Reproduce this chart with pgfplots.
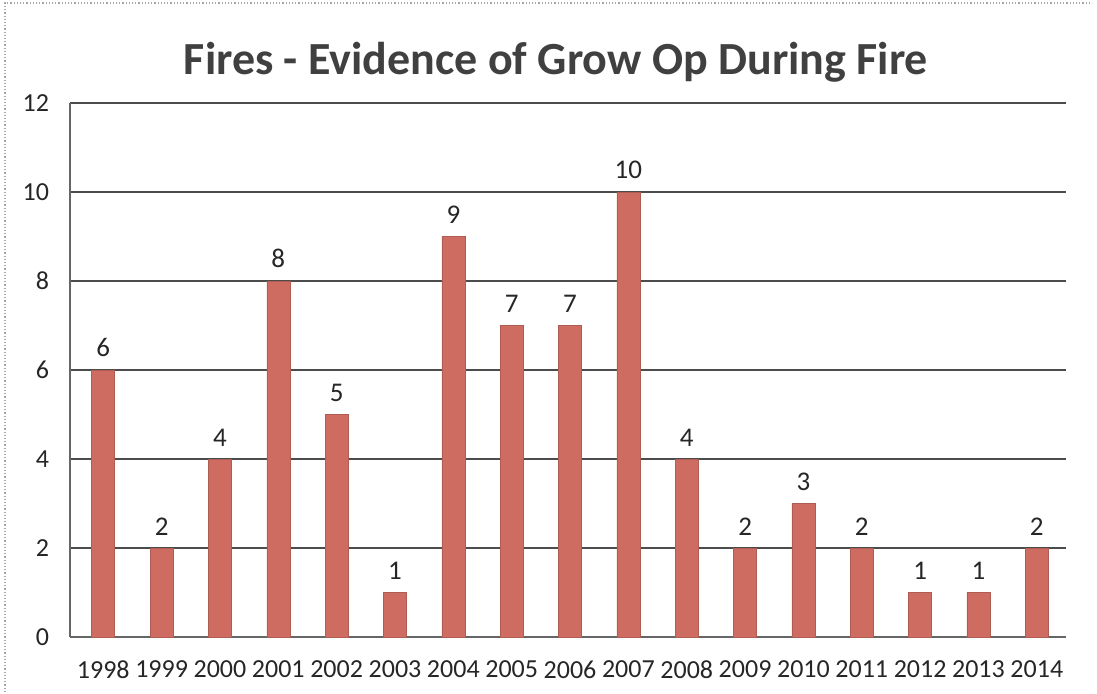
\documentclass[border=0pt]{standalone}
\usepackage{pgfplots}
\pgfplotsset{compat=1.18}
\usepackage{fontspec}
\setmainfont{Carlito}
\definecolor{barc}{RGB}{206,108,98}
\definecolor{titlec}{RGB}{64,64,64}
\begin{document}
\begin{tikzpicture}[x=1pt,y=1pt]
\path[use as bounding box] (-35,-28) rectangle (513.5,318.5);
\draw[gray!70, densely dotted, line width=0.6pt] (-32.5,-27.5) -- (-32.5,317) -- (511,317);
\node[font=\fontsize{23}{26}\selectfont\bfseries, text=titlec] at (243,287.5) {Fires - Evidence of Grow Op During Fire};
\begin{axis}[
  scale only axis, width=498pt, height=267pt,
  xmin=-0.57, xmax=16.5, ymin=0, ymax=12,
  ytick={0,2,...,12},
  xtick={0,...,16},
  xticklabels={1998,1999,2000,2001,2002,2003,2004,2005,2006,2007,2008,2009,2010,2011,2012,2013,2014},
  tick style={draw=none},
  ymajorgrids, grid style={black!70, line width=0.6pt},
  axis x line*=bottom, axis y line*=left,
  axis line style={black!60, line width=0.6pt},
  every tick label/.style={font=\fontsize{13}{15}\selectfont, text=black!85},
  /pgf/number format/assume math mode=true,
  yticklabel style={xshift=-7pt},
  xticklabel style={yshift=-4pt},
  ybar, bar width=11.5pt,
  nodes near coords,
  every node near coord/.append style={font=\fontsize{13.5}{15}\selectfont, text=black!85, yshift=3pt},
]
\addplot[fill=barc, draw=barc!85!black, line width=0.3pt] coordinates {
(0,6) (1,2) (2,4) (3,8) (4,5) (5,1) (6,9) (7,7) (8,7) (9,10) (10,4) (11,2) (12,3) (13,2) (14,1) (15,1) (16,2)};
\end{axis}
\end{tikzpicture}
\end{document}
